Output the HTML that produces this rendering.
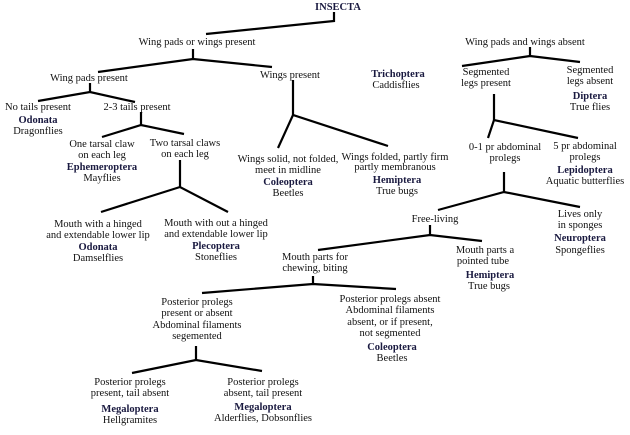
<!DOCTYPE html>
<html><head><meta charset="utf-8"><style>
body{margin:0;background:#fff}
svg text{font-family:"Liberation Serif",serif;font-size:10.5px;fill:#111;text-anchor:middle}
.b{font-weight:bold;fill:#1a1a40}
</style></head><body>
<svg width="630" height="430" viewBox="0 0 630 430">
<g stroke="#000" stroke-width="2.2" fill="none">
<polyline points="206,34 334,21 334,12"/>
<line x1="193" y1="49" x2="193" y2="59"/><polyline points="98,72 193,59 272,67"/>
<line x1="90" y1="83" x2="90" y2="92"/><polyline points="38,101 90,92 135,102"/>
<line x1="293" y1="80" x2="293" y2="115"/><polyline points="278,148 293,115 388,146"/>
<line x1="141" y1="112" x2="141" y2="125"/><polyline points="102,137 141,125 184,134"/>
<line x1="180" y1="160" x2="180" y2="187"/><polyline points="101,212 180,187 228,212"/>
<line x1="530" y1="47" x2="530" y2="56"/><polyline points="462,66 530,56 580,62"/>
<line x1="494" y1="94" x2="494" y2="120"/><polyline points="488,138 494,120 578,138"/>
<line x1="504" y1="172" x2="504" y2="192"/><polyline points="438,210 504,192 580,207"/>
<line x1="430" y1="225" x2="430" y2="235"/><polyline points="318,250 430,235 482,241"/>
<line x1="313" y1="276" x2="313" y2="284"/><polyline points="202,293 313,284 396,289"/>
<line x1="196" y1="346" x2="196" y2="360"/><polyline points="132,373 196,360 262,371"/>
</g>
<text x="338" y="10" class="b">INSECTA</text>
<text x="197" y="45">Wing pads or wings present</text>
<text x="89" y="81">Wing pads present</text>
<text x="290" y="78">Wings present</text>
<text x="38" y="110">No tails present</text>
<text x="38" y="123" class="b">Odonata</text>
<text x="38" y="134">Dragonflies</text>
<text x="137" y="110">2-3 tails present</text>
<text x="102" y="147">One tarsal claw</text>
<text x="102" y="158">on each leg</text>
<text x="102" y="170" class="b">Ephemeroptera</text>
<text x="102" y="181">Mayflies</text>
<text x="185" y="146">Two tarsal claws</text>
<text x="185" y="157">on each leg</text>
<text x="98" y="227">Mouth with a hinged</text>
<text x="98" y="238">and extendable lower lip</text>
<text x="98" y="250" class="b">Odonata</text>
<text x="98" y="261">Damselflies</text>
<text x="216" y="226">Mouth with out a hinged</text>
<text x="216" y="237">and extendable lower lip</text>
<text x="216" y="249" class="b">Plecoptera</text>
<text x="216" y="260">Stoneflies</text>
<text x="288" y="162">Wings solid, not folded,</text>
<text x="288" y="173">meet in midline</text>
<text x="288" y="185" class="b">Coleoptera</text>
<text x="288" y="196">Beetles</text>
<text x="395" y="160">Wings folded, partly firm</text>
<text x="395" y="170">partly membranous</text>
<text x="397" y="183" class="b">Hemiptera</text>
<text x="397" y="194">True bugs</text>
<text x="398" y="77" class="b">Trichoptera</text>
<text x="396" y="88">Caddisflies</text>
<text x="525" y="45">Wing pads and wings absent</text>
<text x="486" y="75">Segmented</text>
<text x="486" y="86">legs present</text>
<text x="590" y="73">Segmented</text>
<text x="590" y="84">legs absent</text>
<text x="590" y="99" class="b">Diptera</text>
<text x="590" y="110">True flies</text>
<text x="505" y="150">0-1 pr abdominal</text>
<text x="505" y="161">prolegs</text>
<text x="585" y="149">5 pr abdominal</text>
<text x="585" y="160">prolegs</text>
<text x="585" y="173" class="b">Lepidoptera</text>
<text x="585" y="184">Aquatic butterflies</text>
<text x="435" y="222">Free-living</text>
<text x="580" y="217">Lives only</text>
<text x="580" y="228">in sponges</text>
<text x="580" y="241" class="b">Neuroptera</text>
<text x="580" y="253">Spongeflies</text>
<text x="315" y="260">Mouth parts for</text>
<text x="315" y="271">chewing, biting</text>
<text x="485" y="253">Mouth parts a</text>
<text x="483" y="264">pointed tube</text>
<text x="490" y="278" class="b">Hemiptera</text>
<text x="489" y="289">True bugs</text>
<text x="197" y="305">Posterior prolegs</text>
<text x="197" y="316">present or absent</text>
<text x="197" y="328">Abdominal filaments</text>
<text x="197" y="339">segemented</text>
<text x="390" y="302">Posterior prolegs absent</text>
<text x="390" y="313">Abdominal filaments</text>
<text x="390" y="325">absent, or if present,</text>
<text x="390" y="336">not segmented</text>
<text x="392" y="350" class="b">Coleoptera</text>
<text x="392" y="361">Beetles</text>
<text x="130" y="385">Posterior prolegs</text>
<text x="130" y="396">present, tail absent</text>
<text x="130" y="412" class="b">Megaloptera</text>
<text x="130" y="423">Hellgramites</text>
<text x="263" y="385">Posterior prolegs</text>
<text x="263" y="396">absent, tail present</text>
<text x="263" y="410" class="b">Megaloptera</text>
<text x="263" y="421">Alderflies, Dobsonflies</text>
</svg>
</body></html>
